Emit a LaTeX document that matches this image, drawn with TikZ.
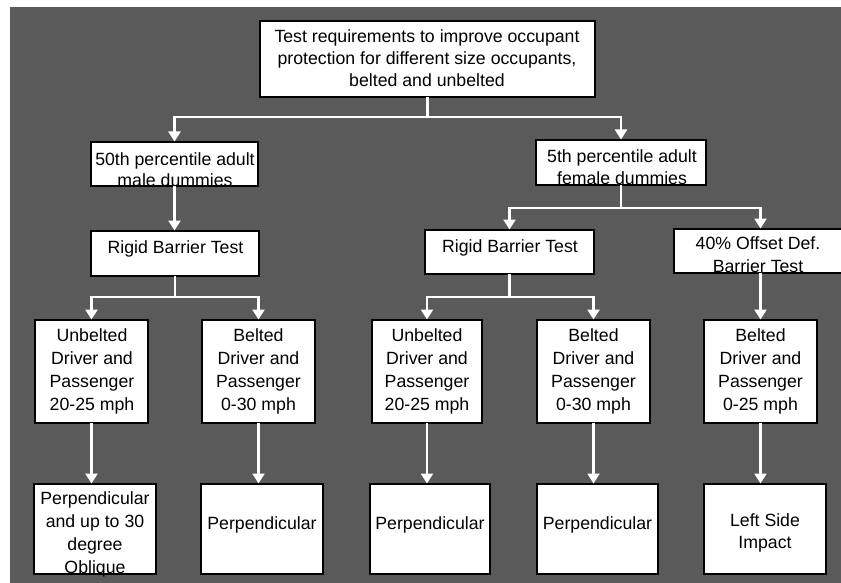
\documentclass[tikz,border=0pt]{standalone}
\usepackage{fontspec}
\setmainfont{Liberation Sans}
\usetikzlibrary{arrows.meta}
\definecolor{panelgray}{RGB}{90,90,90}
\begin{document}
\begin{tikzpicture}[x=1pt,y=-1pt,
  box/.style={draw=black, line width=2.5pt, fill=white, rectangle,
    inner sep=0pt, outer sep=0pt},
  boxtext/.style={font=\fontsize{17.7}{23}\selectfont, align=center,
    inner sep=0pt, execute at begin node=\strut, execute at end node=\strut},
  link/.style={draw=white, line width=2.4pt},
  feed/.style={link, -{Triangle[width=12pt,length=10pt]}, shorten >=0.5pt},
]
\useasboundingbox (0,0) rectangle (841,583);
\clip (0,0) rectangle (841,583);
\fill[white] (0,0) rectangle (841,583);
\fill[panelgray] (10,7) rectangle (841,583);

% ---- boxes ----
\node[box, minimum width=335pt, minimum height=76pt] (top) at (427.5,59) {};
\node[box, minimum width=167pt, minimum height=44pt] (m50) at (174.5,164) {};
\node[box, minimum width=170pt, minimum height=45pt] (f5)  at (621,162.5) {};
\node[box, minimum width=168pt, minimum height=45pt] (rbL) at (175,253.5) {};
\node[box, minimum width=169pt, minimum height=44pt] (rbR) at (509.5,252) {};
\node[box, minimum width=172pt, minimum height=44pt] (off) at (760,251) {};
\node[box, minimum width=113pt, minimum height=103pt] (uL) at (91.5,371.5) {};
\node[box, minimum width=113pt, minimum height=103pt] (bL) at (258.5,371.5) {};
\node[box, minimum width=110pt, minimum height=103pt] (uM) at (427,371.5) {};
\node[box, minimum width=113pt, minimum height=103pt] (bM) at (593.5,371.5) {};
\node[box, minimum width=113pt, minimum height=103pt] (bR) at (760.5,371.5) {};
\node[box, minimum width=122pt, minimum height=90pt] (pL) at (95,529) {};
\node[box, minimum width=122pt, minimum height=90pt] (p2) at (262,529) {};
\node[box, minimum width=120pt, minimum height=90pt] (p3) at (430,529) {};
\node[box, minimum width=121pt, minimum height=90pt] (p4) at (597.5,529) {};
\node[box, minimum width=122pt, minimum height=90pt] (p5) at (765,529) {};

% ---- connectors ----
\draw[feed] (top.south) -- ++(0,20) -| (m50.north);
\draw[feed] (top.south) -- ++(0,20) -| (f5.north);
\draw[feed] (m50.south) -- (m50.south |- rbL.north);
\draw[feed] (rbL.south) -- ++(0,21) -| (uL.north);
\draw[feed] (rbL.south) -- ++(0,21) -| (bL.north);
\draw[feed] (f5.south) -- ++(0,23) -| (rbR.north);
\draw[feed] (f5.south) -- ++(0,23) -| (bR.north |- off.north);
\draw[feed] (rbR.south) -- ++(0,23) -| (uM.north);
\draw[feed] (rbR.south) -- ++(0,23) -| (bM.north);
\draw[feed] (off.south -| bR.north) -- (bR.north);
\draw[feed] (uL.south) -- (uL.south |- pL.north);
\draw[feed] (bL.south) -- (bL.south |- p2.north);
\draw[feed] (uM.south) -- (uM.south |- p3.north);
\draw[feed] (bM.south) -- (bM.south |- p4.north);
\draw[feed] (bR.south) -- (bR.south |- p5.north);

% ---- texts ----
\node[boxtext, font=\fontsize{17.7}{22}\selectfont] (ttop) at (427,61)
  {Test requirements to improve occupant\\protection for different size occupants,\\belted and unbelted};
\node[boxtext, font=\fontsize{17.7}{21}\selectfont] (tm50) at (175,173) {50th percentile adult\\male dummies};
\node[boxtext, font=\fontsize{17.7}{22}\selectfont] (tf5) at (622,170) {5th percentile adult\\female dummies};
\node[boxtext] (trbL) at (175.5,248.5) {Rigid Barrier Test};
\node[boxtext] (trbR) at (510,247.5) {Rigid Barrier Test};
\node[boxtext] (toff) at (758,258.5) {40\% Offset Def.\\Barrier Test};
\node[boxtext] (tuL) at (92,373) {Unbelted\\Driver and\\Passenger\\20-25 mph};
\node[boxtext] (tbL) at (258.5,373) {Belted\\Driver and\\Passenger\\0-30 mph};
\node[boxtext] (tuM) at (427,373) {Unbelted\\Driver and\\Passenger\\20-25 mph};
\node[boxtext] (tbM) at (593.5,373) {Belted\\Driver and\\Passenger\\0-30 mph};
\node[boxtext] (tbR) at (760.5,373) {Belted\\Driver and\\Passenger\\0-25 mph};
\node[boxtext] (tpL) at (95,536) {Perpendicular\\and up to 30\\degree\\Oblique};
\node[boxtext] (tp2) at (262,524.5) {Perpendicular};
\node[boxtext] (tp3) at (430,524.5) {Perpendicular};
\node[boxtext] (tp4) at (597.5,524.5) {Perpendicular};
\node[boxtext, font=\fontsize{17.7}{22}\selectfont] (tp5) at (765,534) {Left Side\\Impact};
\end{tikzpicture}
\end{document}
